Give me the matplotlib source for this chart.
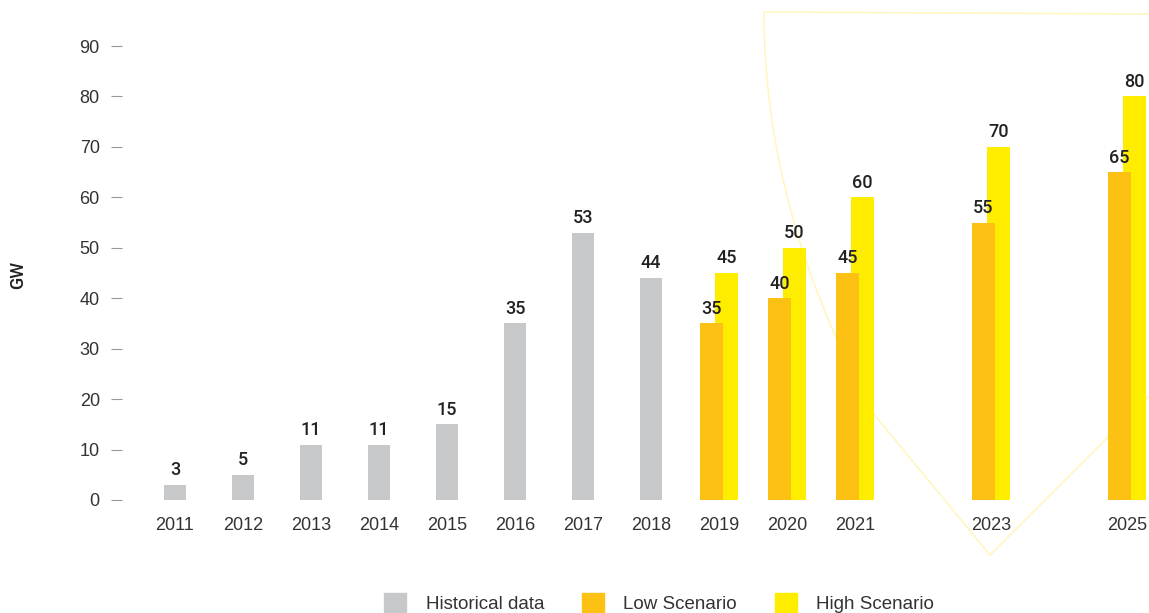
import matplotlib.pyplot as plt
from matplotlib.patches import Patch
from matplotlib.lines import Line2D
import numpy as np

plt.rcParams['font.family'] = ['Liberation Sans', 'DejaVu Sans']

# Data
hist_years = [2011, 2012, 2013, 2014, 2015, 2016, 2017, 2018]
hist_values = [3, 5, 11, 11, 15, 35, 53, 44]

scen_years = [2019, 2020, 2021, 2023, 2025]
low_values = [35, 40, 45, 55, 65]
high_values = [45, 50, 60, 70, 80]

year_ticks = hist_years + scen_years
y_ticks = [0, 10, 20, 30, 40, 50, 60, 70, 80, 90]

grey = '#c7c8c9'
orange = '#fdc113'
yellow = '#ffed00'
text_col = '#222222'

W, H = 1149, 613
fig = plt.figure(figsize=(W / 100, H / 100), dpi=100)

# axes placed in pixel terms
left_px, right_px = 122, 1147.4
bottom_px = 113
ppu = (500 - 46) / 90  # pixels per GW
ax = fig.add_axes([left_px / W, bottom_px / H,
                   (right_px - left_px) / W, 95 * ppu / H])
ax.set_facecolor('none')
ax.set_xlim(2011 - (175 - left_px) / 68, 2011 + (right_px - 175) / 68)
ax.set_ylim(0, 95)

# decorative shield outline behind the chart (figure pixels)
cy = np.linspace(12, 415, 60)
cx = 764 + 0.00068 * (cy - 12) ** 2
sx = np.concatenate([[1149], cx, [990, 1108, 1149]])
sy = np.concatenate([[14], cy, [555, 437, 396]])
fig.lines.append(Line2D(sx / W, 1 - sy / H, transform=fig.transFigure,
                        color='#fff6bc', lw=1.1, zorder=-5))

bw = 0.33
off = 0.11
ax.bar(hist_years, hist_values, bw, color=grey, zorder=2)
ax.bar(np.array(scen_years) + off, high_values, bw, color=yellow, zorder=2)
ax.bar(np.array(scen_years) - off, low_values, bw, color=orange, zorder=3)

lab_kw = dict(ha='center', va='bottom', fontsize=13, color=text_col,
              family=['Roboto', 'DejaVu Sans'], fontweight=500,
              textcoords='offset points', zorder=5)
for x, v in zip(hist_years, hist_values):
    ax.annotate(str(v), (x, v), xytext=(0, 4), **lab_kw)
for x, v in zip(scen_years, high_values):
    ax.annotate(str(v), (x + off, v), xytext=(0, 4), **lab_kw)
for x, v in zip(scen_years, low_values):
    ax.annotate(str(v), (x - off, v), xytext=(0, 4), **lab_kw)

for s in ax.spines.values():
    s.set_visible(False)

ax.set_xticks(year_ticks)
ax.set_xticklabels([str(y) for y in year_ticks])
ax.tick_params(axis='x', length=0, pad=12, labelsize=13, labelcolor='#333333')
ax.set_yticks(y_ticks)
ax.tick_params(axis='y', length=8, width=0.8, color='#999999', pad=8,
               labelsize=13, labelcolor='#333333')

fig.text(18 / W, 1 - 275 / H, 'GW', rotation=90, ha='center', va='center',
         fontsize=13, family=['Roboto', 'DejaVu Sans'], fontweight=500,
         color=text_col)

handles = [Patch(color=grey, label='Historical data'),
           Patch(color=orange, label='Low Scenario'),
           Patch(color=yellow, label='High Scenario')]
fig.legend(handles=handles, loc='center', bbox_to_anchor=(659 / W, 10 / H),
           ncol=3, frameon=False, fontsize=13.5, handlelength=1.18,
           handleheight=1.18, handletextpad=1.05, columnspacing=2.0,
           borderpad=0, labelcolor='#333333')

fig.savefig('out.png', dpi=100)
